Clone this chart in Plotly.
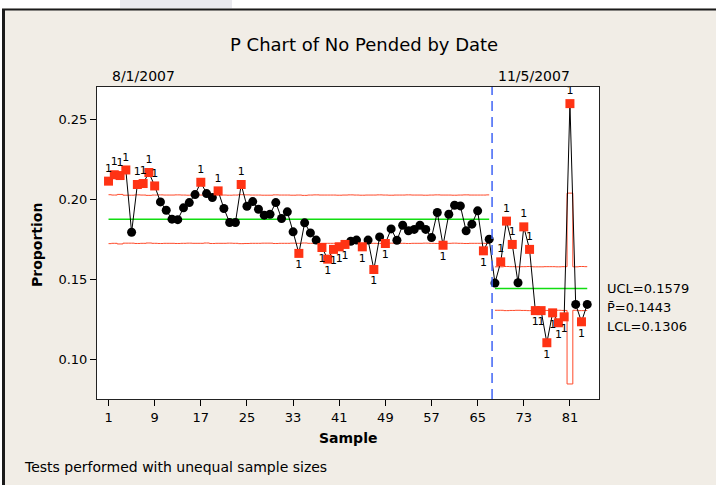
import plotly.graph_objects as go

# ---------------- data ----------------
samples = list(range(1, 85))
proportion = [
    0.2115, 0.2155, 0.2150, 0.2185, 0.1795, 0.2094, 0.2100, 0.2169, 0.2085, 0.1985,
    0.1933, 0.1877, 0.1874, 0.1948, 0.1981, 0.2031, 0.2108, 0.2037, 0.2012, 0.2054,
    0.1944, 0.1856, 0.1856, 0.2094, 0.1958, 0.1987, 0.1939, 0.1902, 0.1908, 0.1981,
    0.1881, 0.1923, 0.1798, 0.1663, 0.1854, 0.1791, 0.1746, 0.1700, 0.1627, 0.1688,
    0.1704, 0.1719, 0.1739, 0.1746, 0.1704, 0.1746, 0.1562, 0.1766, 0.1725, 0.1816,
    0.1745, 0.1839, 0.1804, 0.1813, 0.1839, 0.1813, 0.1762, 0.1919, 0.1714, 0.1908,
    0.1964, 0.1960, 0.1804, 0.1846, 0.1929, 0.1679, 0.1752, 0.1477, 0.1610, 0.1865,
    0.1719, 0.1479, 0.1829, 0.1688, 0.1305, 0.1305, 0.1104, 0.1291, 0.1229, 0.1266,
    0.2600, 0.1344, 0.1235, 0.1344,
]
# samples failing test 1 (drawn as red squares, labelled "1")
flagged = [1, 2, 3, 4, 6, 7, 8, 9, 17, 20, 24, 34, 38, 39, 40, 41, 42, 45, 47, 49,
           59, 66, 69, 70, 71, 73, 74, 75, 76, 77, 78, 79, 80, 81, 83]

stage_samples = [list(range(1, 68)), list(range(68, 85))]
stage_labels = ["8/1/2007", "11/5/2007"]
stage_center = [0.1877, 0.1443]
# 3-sigma half widths per sample (unequal sample sizes)
stage_width = [
    [0.0153, 0.0151, 0.0155, 0.0150, 0.0150, 0.0152, 0.0151, 0.0149, 0.0151, 0.0152,
     0.0151, 0.0151, 0.0152, 0.0151, 0.0150, 0.0151, 0.0151, 0.0149, 0.0152, 0.0151,
     0.0151, 0.0150, 0.0151, 0.0153, 0.0152, 0.0151, 0.0151, 0.0150, 0.0150, 0.0152,
     0.0151, 0.0151, 0.0150, 0.0151, 0.0149, 0.0151, 0.0152, 0.0151, 0.0151, 0.0151,
     0.0150, 0.0151, 0.0152, 0.0151, 0.0150, 0.0151, 0.0151, 0.0152, 0.0151, 0.0150,
     0.0151, 0.0151, 0.0152, 0.0151, 0.0151, 0.0150, 0.0151, 0.0152, 0.0151, 0.0151,
     0.0150, 0.0151, 0.0152, 0.0151, 0.0151, 0.0151, 0.0152],
    [0.0136, 0.0136, 0.0138, 0.0137, 0.0136, 0.0137, 0.0138, 0.0136, 0.0136, 0.0137,
     0.0137, 0.0136, 0.0137, 0.0597, 0.0136, 0.0138, 0.0137],
]
limit_names = ["UCL", "P̄", "LCL"]
limit_values = ["0.1579", "0.1443", "0.1306"]
x_ticks = [1, 9, 17, 25, 33, 41, 49, 57, 65, 73, 81]
y_ticks = [0.10, 0.15, 0.20, 0.25]

# ---------------- layout helpers ----------------
W, H = 716, 485
L, R, T, B = 97, 599, 87, 399  # plot area in pixels
def px(x):
    return (x - L) / (R - L)
def py(y):
    return (B - y) / (B - T)

FONT = "DejaVu Sans"
RED = "#FF3314"
LIMRED = "#FF4A2A"
GREEN = "#11DD11"

fig = go.Figure()

# control limits and center lines
for k in range(2):
    xs = stage_samples[k]
    c = stage_center[k]
    ucl = [c + w for w in stage_width[k]]
    lcl = [c - w for w in stage_width[k]]
    for lim in (ucl, lcl):
        fig.add_trace(go.Scatter(x=xs, y=lim, mode="lines", line=dict(color=LIMRED, width=1, shape="hvh"),
                                 hoverinfo="skip", showlegend=False))
    fig.add_trace(go.Scatter(x=[xs[0], xs[-1]], y=[c, c], mode="lines", line=dict(color=GREEN, width=1.5),
                             hoverinfo="skip", showlegend=False))

# connecting line
fig.add_trace(go.Scatter(x=samples, y=proportion, mode="lines", line=dict(color="black", width=1),
                         showlegend=False))

# in-control points
ok_x = [s for s in samples if s not in flagged]
ok_y = [proportion[s - 1] for s in ok_x]
fig.add_trace(go.Scatter(x=ok_x, y=ok_y, mode="markers",
                         marker=dict(symbol="circle", size=9, color="black"), showlegend=False))

# out-of-control points
bad_y = [proportion[s - 1] for s in flagged]
pos = []
for s in flagged:
    k = 0 if s <= stage_samples[0][-1] else 1
    pos.append("top center" if proportion[s - 1] > stage_center[k] else "bottom center")
fig.add_trace(go.Scatter(x=flagged, y=bad_y, mode="markers+text", text=["1"] * len(flagged),
                         textposition=pos, textfont=dict(family=FONT, size=11, color="black"),
                         marker=dict(symbol="square", size=9, color=RED), showlegend=False,
                         cliponaxis=False))

shapes = [
    # stage split line
    dict(type="line", xref="x", yref="paper", x0=67.5, x1=67.5, y0=0, y1=1,
         line=dict(color="#3F63F5", width=1.5, dash="10px,6px")),
    # screenshot frame
    dict(type="rect", xref="paper", yref="paper", x0=px(0), x1=px(W), y0=py(0), y1=py(8.5),
         fillcolor="white", line=dict(width=0), layer="below"),
    dict(type="rect", xref="paper", yref="paper", x0=px(120), x1=px(232), y0=py(0), y1=py(8.5),
         fillcolor="#E9E9EE", line=dict(width=0), layer="below"),
    dict(type="rect", xref="paper", yref="paper", x0=px(0), x1=px(2), y0=py(0), y1=py(H),
         fillcolor="white", line=dict(width=0), layer="below"),
    dict(type="line", xref="paper", yref="paper", x0=px(2), x1=px(W), y0=py(9.5), y1=py(9.5),
         line=dict(color="#1a1a1a", width=2), layer="below"),
    dict(type="line", xref="paper", yref="paper", x0=px(3.5), x1=px(3.5), y0=py(9), y1=py(H),
         line=dict(color="#1a1a1a", width=3), layer="below"),
]

ann = []
# stage labels
for k in range(2):
    ann.append(dict(text=stage_labels[k], xref="x", yref="paper", x=stage_samples[k][0], y=py(76),
                    xanchor="left", yanchor="middle", showarrow=False, xshift=1,
                    font=dict(family=FONT, size=14, color="black")))
# limit labels
for i, (n, v) in enumerate(zip(limit_names, limit_values)):
    ann.append(dict(text=f"{n}={v}", xref="paper", yref="paper", x=px(605), y=py(288 + 19 * i),
                    xanchor="left", yanchor="middle", showarrow=False,
                    font=dict(family=FONT, size=13, color="black")))
ann += [
    dict(text="<b>Sample</b>", xref="paper", yref="paper", x=0.5, y=py(438), xanchor="center",
         yanchor="middle", showarrow=False, font=dict(family=FONT, size=14, color="black")),
    dict(text="<b>Proportion</b>", xref="paper", yref="paper", x=px(37), y=py(245), xanchor="center",
         yanchor="middle", textangle=-90, showarrow=False, font=dict(family=FONT, size=14, color="black")),
    dict(text="Tests performed with unequal sample sizes", xref="paper", yref="paper", x=px(22), y=py(467),
         xanchor="left", yanchor="middle", showarrow=False, font=dict(family=FONT, size=14, color="black")),
    dict(text="P Chart of No Pended by Date", xref="paper", yref="paper", x=px(363.5), y=py(44),
         xanchor="center", yanchor="middle", showarrow=False, font=dict(family=FONT, size=18, color="black")),
]

fig.update_layout(
    width=W, height=H,
    margin=dict(l=L, r=W - R, t=T, b=H - B, pad=0),
    paper_bgcolor="#F1EDE6",
    plot_bgcolor="white",
    showlegend=False,
    shapes=shapes,
    annotations=ann,
    xaxis=dict(range=[-1.0, 86.04], tickvals=x_ticks, ticks="outside", ticklen=6, tickcolor="black",
               showgrid=False, zeroline=False, showline=True, mirror=True, linecolor="#222", linewidth=1,
               tickfont=dict(family=FONT, size=13, color="black")),
    yaxis=dict(range=[0.0752, 0.2704], tickvals=y_ticks, tickformat=".2f", ticks="outside", ticklen=6,
               tickcolor="black", showgrid=False, zeroline=False, showline=True, mirror=True,
               linecolor="#222", linewidth=1, tickfont=dict(family=FONT, size=13, color="black")),
)

fig.write_html("out.html", config={"displayModeBar": False},
               post_script="document.body.style.margin='0';document.body.style.overflow='hidden';")
